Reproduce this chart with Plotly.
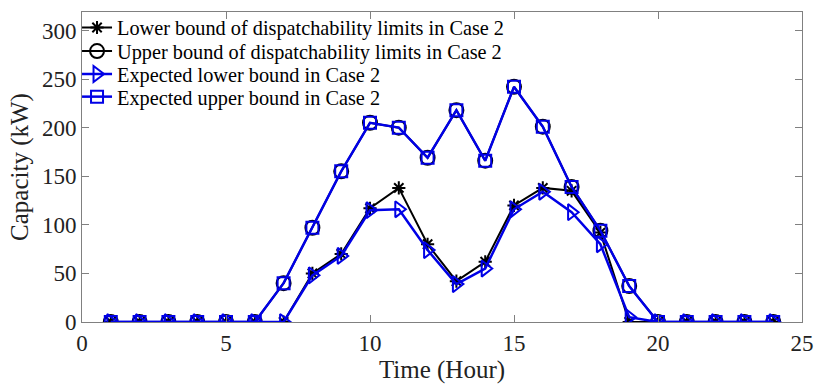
import plotly.graph_objects as go

hours = list(range(1, 25))
lower_limit = [0, 0, 0, 0, 0, 0, 0, 50, 70, 117, 138, 80, 42, 62, 120, 138, 135, 92, 0, 0, 0, 0, 0, 0]
upper_limit = [0, 0, 0, 0, 0, 0, 40, 97, 155, 205, 200, 169, 218, 166, 242, 201, 139, 94, 37, 0, 0, 0, 0, 0]
exp_lower = [0, 0, 0, 0, 0, 0, 0, 48, 68, 115, 116, 74, 39, 55, 116, 134, 113, 80, 5, 0, 0, 0, 0, 0]
exp_upper = [0, 0, 0, 0, 0, 0, 40, 97, 155, 205, 200, 169, 218, 166, 242, 201, 139, 94, 37, 0, 0, 0, 0, 0]

names = [
    "Lower bound of dispatchability limits in Case 2",
    "Upper bound of dispatchability limits in Case 2",
    "Expected lower bound in Case 2",
    "Expected upper bound in Case 2",
]
x_ticks = [0, 5, 10, 15, 20, 25]
y_ticks = [0, 50, 100, 150, 200, 250, 300]

FONT = "Liberation Serif"
BLUE = "#0000e6"

fig = go.Figure()
fig.add_trace(go.Scatter(x=hours, y=lower_limit, name=names[0], mode="lines+markers",
                         legend="legend",
                         line=dict(color="black", width=2),
                         marker=dict(symbol="asterisk-open", size=11, color="black",
                                     line=dict(color="black", width=2))))
fig.add_trace(go.Scatter(x=hours, y=upper_limit, name=names[1], mode="lines+markers",
                         legend="legend2",
                         line=dict(color="black", width=2),
                         marker=dict(symbol="circle-open", size=14, color="black",
                                     line=dict(color="black", width=2))))
fig.add_trace(go.Scatter(x=hours, y=exp_lower, name=names[2], mode="lines+markers",
                         legend="legend3",
                         line=dict(color=BLUE, width=2.5),
                         marker=dict(symbol="triangle-right-open", size=14, color=BLUE,
                                     line=dict(color=BLUE, width=2))))
fig.add_trace(go.Scatter(x=hours, y=exp_upper, name=names[3], mode="lines+markers",
                         legend="legend4",
                         line=dict(color=BLUE, width=2.5),
                         marker=dict(symbol="square-open", size=12, color=BLUE,
                                     line=dict(color=BLUE, width=2))))


def leg(yv):
    return dict(x=-0.0069, y=yv, xanchor="left", yanchor="middle",
                bgcolor="rgba(0,0,0,0)", borderwidth=0,
                font=dict(family=FONT, size=20.3, color="black"),
                itemwidth=30, tracegroupgap=0)


fig.update_layout(
    width=822, height=391,
    margin=dict(l=82, r=15, t=8, b=69),
    paper_bgcolor="white", plot_bgcolor="white",
    font=dict(family=FONT, size=22, color="#222222"),
    showlegend=True,
    legend=leg(0.949),
    legend2=leg(0.873),
    legend3=leg(0.799),
    legend4=leg(0.726),
)
fig.update_xaxes(range=[0, 25], tickvals=x_ticks, ticks="inside", ticklen=7,
                 tickcolor="#808080", showline=True, linecolor="#808080", linewidth=1,
                 mirror="ticks", showgrid=False, zeroline=False,
                 tickfont=dict(family=FONT, size=23, color="#222222"),
                 title=dict(text="Time (Hour)", font=dict(family=FONT, size=25, color="#222222"),
                            standoff=4))
fig.update_yaxes(range=[0, 319], tickvals=y_ticks, ticks="inside", ticklen=7,
                 tickcolor="#808080", showline=True, linecolor="#808080", linewidth=1,
                 mirror="ticks", showgrid=False, zeroline=False,
                 tickfont=dict(family=FONT, size=23, color="#222222"),
                 title=dict(text="Capacity (kW)", font=dict(family=FONT, size=25, color="#222222"),
                            standoff=6))

fig.write_html("out.html")
